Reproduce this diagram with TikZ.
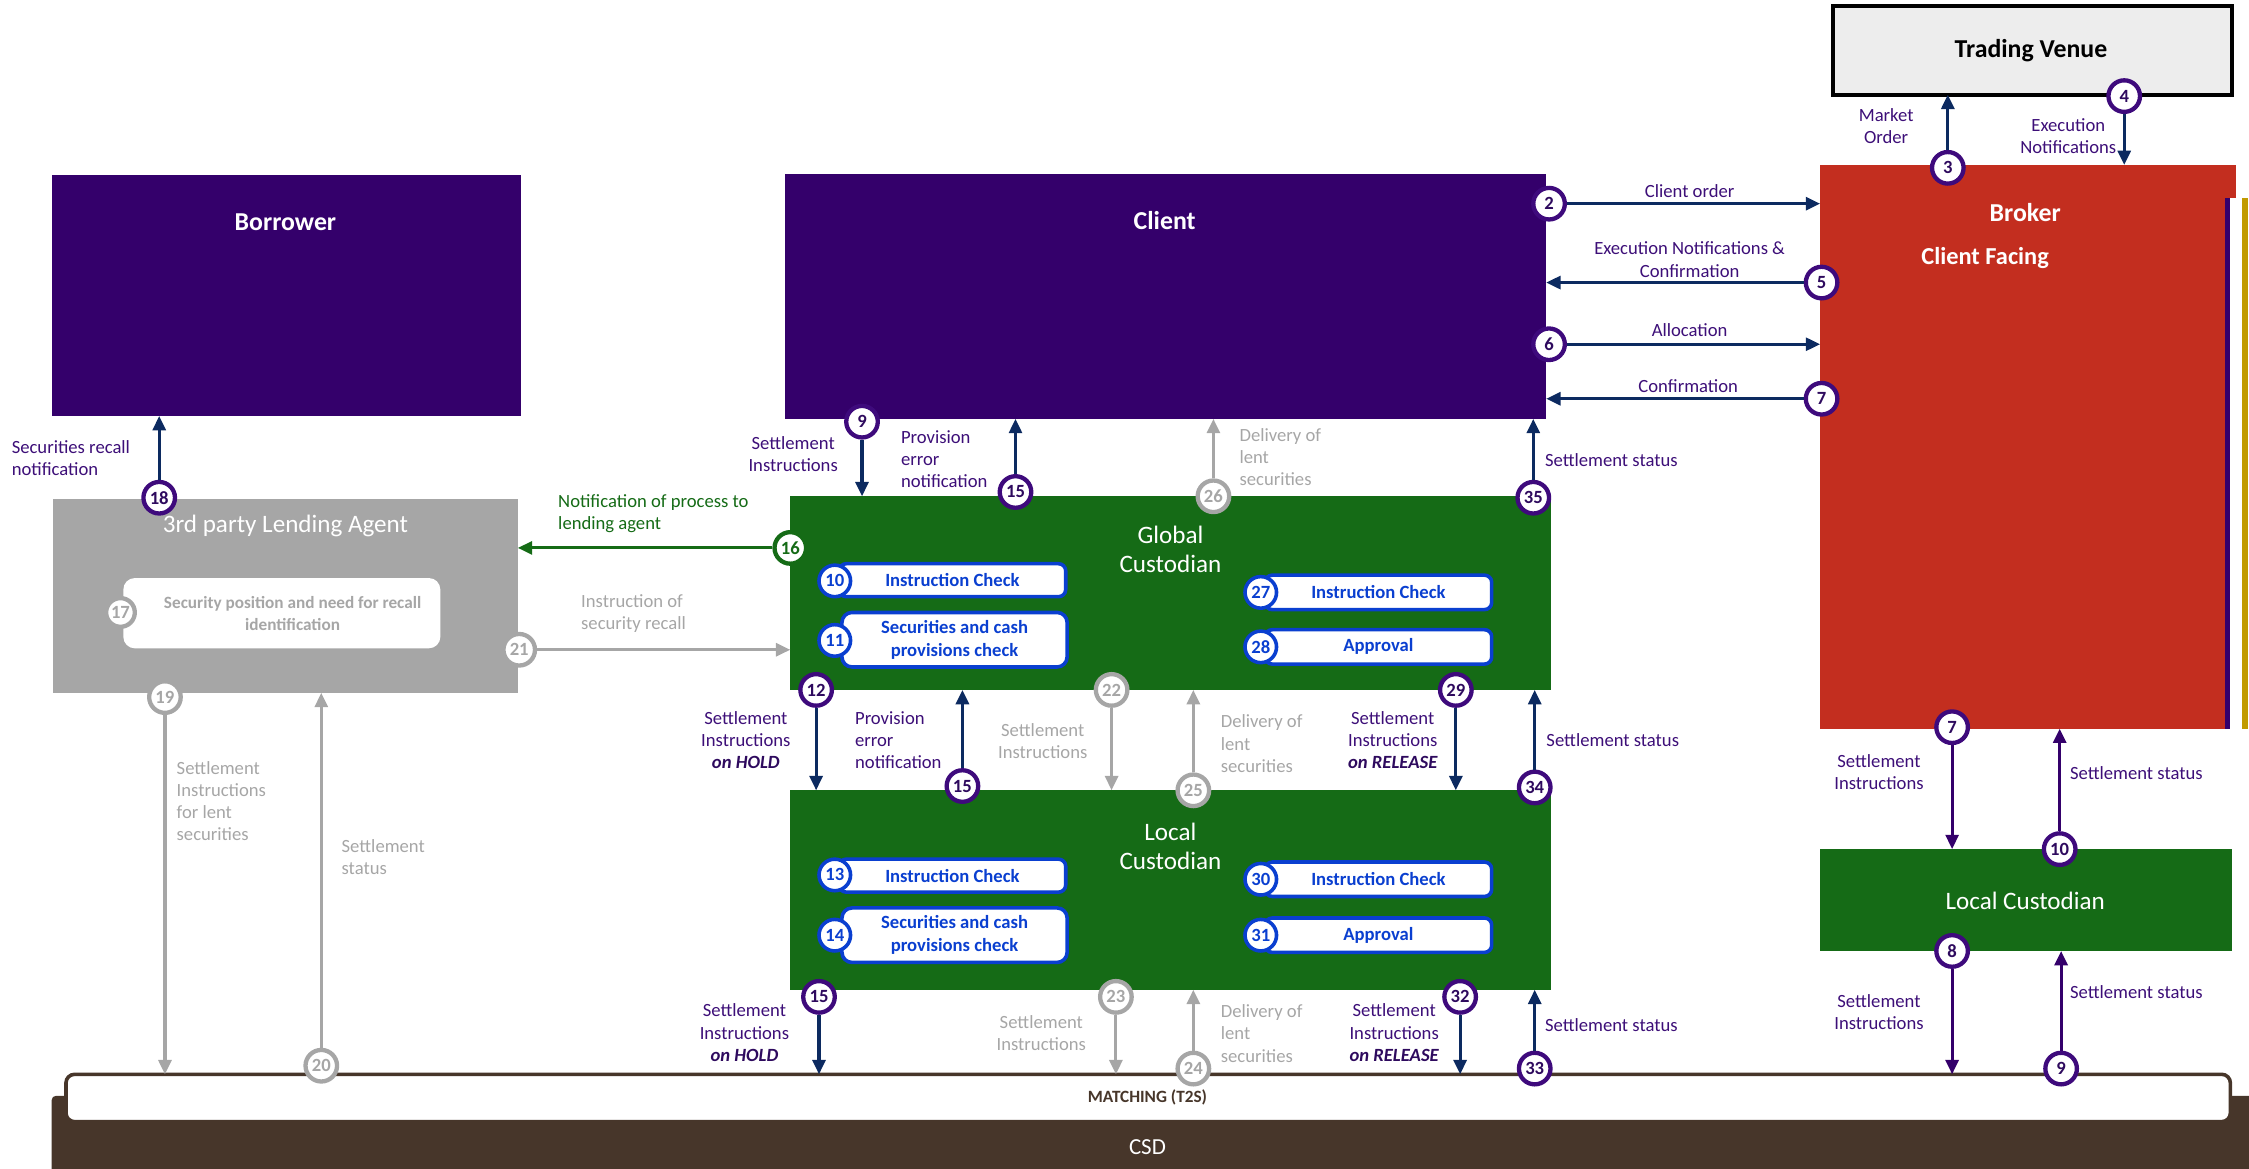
\documentclass[tikz,border=0pt]{standalone}
\usepackage{fontspec}
\setmainfont{Carlito}
\usetikzlibrary{arrows.meta}

\definecolor{deeppurple}{HTML}{34006B}
\definecolor{brokerred}{HTML}{C32E1F}
\definecolor{custgreen}{HTML}{156B16}
\definecolor{agentgray}{HTML}{A6A6A6}
\definecolor{venuegray}{HTML}{EDEDED}
\definecolor{csdbrown}{HTML}{47362A}
\definecolor{navyflow}{HTML}{0C2A60}
\definecolor{lblpurple}{HTML}{3D0F78}
\definecolor{ringpurple}{HTML}{3E0A7C}
\definecolor{numpurple}{HTML}{2E0A5E}
\definecolor{checkblue}{HTML}{0A3FD0}
\definecolor{goldline}{HTML}{C19A00}

\newcommand\flagtext[1]{{\color{numpurple}\bfseries\itshape #1}}

\tikzset{
  panel/.style={draw=none, inner sep=0, outer sep=0, anchor=north west},
  title/.style={font=\fontsize{18}{21}\selectfont\bfseries, text=white, inner sep=0},
  subtitle/.style={font=\fontsize{17.5}{20}\selectfont, text=white, inner sep=0, align=center},
  ring/.style={circle, draw=ringpurple, line width=3pt, fill=white, minimum size=22pt,
    inner sep=0, font=\fontsize{13}{13}\selectfont\bfseries, text=numpurple},
  ringgray/.style={ring, draw=agentgray, text=agentgray},
  ringgreen/.style={ring, draw=custgreen, text=custgreen},
  ringblue/.style={ring, draw=checkblue, text=checkblue, line width=2.5pt},
  pill/.style={draw=checkblue, line width=2.5pt, fill=white, rounded corners=5pt, inner sep=0,
    outer sep=0, anchor=north west, font=\fontsize{13}{16}\selectfont\bfseries,
    text=checkblue, align=center},
  flow/.style={line width=2.2pt, draw=navyflow, -{Triangle[length=10pt,width=9pt]}},
  flowgray/.style={flow, draw=agentgray},
  flowpurple/.style={flow, draw=deeppurple},
  flowgreen/.style={flow, draw=custgreen},
  lbl/.style={font=\fontsize{13}{15.5}\selectfont, text=lblpurple, inner sep=0, align=center},
  lblL/.style={lbl, align=left, anchor=west},
  lblgray/.style={lbl, text=agentgray},
  lblgrayL/.style={lblL, text=agentgray},
}

\begin{document}
\begin{tikzpicture}[x=1pt,y=-1pt]
\useasboundingbox (0,0) rectangle (1568,815);

% ---------- main blocks ----------
\node[panel, fill=venuegray, draw=black, line width=3pt, minimum width=278pt, minimum height=62pt] (venue) at (1278,4) {};
\node[panel, fill=brokerred, minimum width=282pt, minimum height=393pt] (broker) at (1269,115) {};
\fill[brokerred] (1550,115) rectangle (1559,138);
\fill[deeppurple] (1551,138) rectangle (1555,508);
\fill[goldline] (1563,138) rectangle (1567,508);

\node[panel, fill=deeppurple, minimum width=531pt, minimum height=171pt] (client) at (547,121) {};
\node[panel, fill=deeppurple, minimum width=327pt, minimum height=168pt] (borrower) at (36,122) {};
\node[panel, fill=agentgray, minimum width=324pt, minimum height=135pt] (agent) at (37,348) {};
\node[panel, fill=white, rounded corners=8pt, minimum width=221pt, minimum height=49pt] (recall) at (86,403) {};
\node[panel, fill=custgreen, minimum width=530pt, minimum height=135pt] (gcust) at (551,346) {};
\node[panel, fill=custgreen, minimum width=530pt, minimum height=139pt] (lcust) at (551,551) {};
\node[panel, fill=custgreen, minimum width=287pt, minimum height=71pt] (lcright) at (1269,592) {};

\node[panel, fill=csdbrown, rounded corners=3pt, minimum width=1540pt, minimum height=56pt] (csd) at (36,764) {};
\node[panel, fill=white, draw=csdbrown, line width=2.5pt, rounded corners=6pt, minimum width=1509pt, minimum height=33pt] (match) at (46,749) {};

% ---------- block titles ----------
\node[title, text=black] (venuetitle) at (1416,35) {Trading Venue};
\node[title] (brokertitle) at (1412,148) {Broker};
\node[title, font=\fontsize{17}{20}\selectfont\bfseries] (facing) at (1384,180) {Client Facing};
\node[title] (clienttitle) at (812,154) {Client};
\node[title] (borrowertitle) at (199,155) {Borrower};
\node[subtitle] (agenttitle) at (199,367) {3rd party Lending Agent};
\node[subtitle] (gctitle) at (816,383) {Global\\Custodian};
\node[subtitle] (lctitle) at (816,590) {Local\\Custodian};
\node[subtitle] (lcrtitle) at (1412,628) {Local Custodian};
\node[font=\fontsize{12}{14}\selectfont\bfseries, text=csdbrown, inner sep=0] (matchtitle) at (800,765) {MATCHING (T2S)};
\node[font=\fontsize{16}{18}\selectfont, text=white, inner sep=0] (csdtitle) at (800,800) {CSD};
\node[font=\fontsize{12}{15.5}\selectfont\bfseries, text=agentgray, inner sep=0, align=center] (recalltxt) at (204,427.5) {Security position and need for recall\\identification};

% ---------- check steps ----------
\node[pill, minimum width=158pt, minimum height=23pt] (p10) at (585,393) {Instruction Check};
\node[pill, rounded corners=7pt, minimum width=157pt, minimum height=38pt] (p11) at (587,427) {Securities and cash\\provisions check};
\node[pill, minimum width=158pt, minimum height=24pt] (p27) at (882,401) {Instruction Check};
\node[pill, minimum width=158pt, minimum height=24pt] (p28) at (882,439) {Approval};
\node[pill, minimum width=158pt, minimum height=23pt] (p13) at (585,599) {Instruction Check};
\node[pill, rounded corners=7pt, minimum width=157pt, minimum height=38pt] (p14) at (587,633) {Securities and cash\\provisions check};
\node[pill, minimum width=158pt, minimum height=24pt] (p30) at (882,601) {Instruction Check};
\node[pill, minimum width=158pt, minimum height=24pt] (p31) at (882,640) {Approval};

\node[ringblue] (n10) at (582,405) {10};
\node[ringblue] (n11) at (582,446.5) {11};
\node[ringblue] (n27) at (879,413) {27};
\node[ringblue] (n28) at (879,451) {28};
\node[ringblue] (n13) at (582,610) {13};
\node[ringblue] (n14) at (582,652) {14};
\node[ringblue] (n30) at (879,613) {30};
\node[ringblue] (n31) at (879,652) {31};
\node[ringgray, minimum size=20pt] (n17) at (84,427) {17};

% ---------- step markers ----------
\node[ring] (n2) at (1080,142) {2};
\node[ring] (n5) at (1270,197) {5};
\node[ring] (n6) at (1080,240) {6};
\node[ring] (n7) at (1270,278) {7};
\node[ring] (n3) at (1358,117) {3};
\node[ring] (n4) at (1481,67) {4};
\node[ring] (n9) at (601,294) {9};
\node[ring] (n15a) at (708,343) {15};
\node[ringgray] (n26) at (846,346) {26};
\node[ring] (n35) at (1069,347) {35};
\node[ringgreen] (n16) at (551,382) {16};
\node[ring] (n18) at (111,347) {18};
\node[ringgray] (n21) at (362,453) {21};
\node[ringgray] (n19) at (115,486) {19};
\node[ringgray] (n20) at (224,743) {20};
\node[ring] (n12) at (569,481) {12};
\node[ring] (n15b) at (671,548) {15};
\node[ringgray] (n22) at (775,481) {22};
\node[ringgray] (n25) at (832,551) {25};
\node[ring] (n29) at (1015,481) {29};
\node[ring] (n34) at (1070,549) {34};
\node[ring] (n15c) at (571,695) {15};
\node[ringgray] (n23) at (778,695) {23};
\node[ringgray] (n24) at (832,745) {24};
\node[ring] (n32) at (1018,695) {32};
\node[ring] (n33) at (1070,745) {33};
\node[ring] (n7r) at (1361,507) {7};
\node[ring] (n10r) at (1436,592) {10};
\node[ring] (n8r) at (1361,663) {8};
\node[ring] (n9r) at (1437,745) {9};

% ---------- flows ----------
\draw[flow] (n2) -- (n2 -| broker.west);
\draw[flow] (n5) -- (n5 -| client.east);
\draw[flow] (n6) -- (n6 -| broker.west);
\draw[flow] (n7) -- (n7 -| client.east);
\draw[flow] (n3) -- (n3 |- venue.south);
\draw[flow] (n4) -- (n4 |- broker.north);
\draw[flow] (n9) -- (n9 |- gcust.north);
\draw[flow] (n15a) -- (n15a |- client.south);
\draw[flowgray] (n26) -- (n26 |- client.south);
\draw[flow] (n35) -- (n35 |- client.south);
\draw[flowgreen] (n16) -- (n16 -| agent.east);
\draw[flow] (n18) -- (n18 |- borrower.south);
\draw[flowgray] (n21) -- (n21 -| gcust.west);
\draw[flowgray] (n19) -- (n19 |- match.north);
\draw[flowgray] (n20) -- (n20 |- agent.south);
\draw[flow] (n12) -- (n12 |- lcust.north);
\draw[flow] (n15b) -- (n15b |- gcust.south);
\draw[flowgray] (n22) -- (n22 |- lcust.north);
\draw[flowgray] (n25) -- (n25 |- gcust.south);
\draw[flow] (n29) -- (n29 |- lcust.north);
\draw[flow] (n34) -- (n34 |- gcust.south);
\draw[flow] (n15c) -- (n15c |- match.north);
\draw[flowgray] (n23) -- (n23 |- match.north);
\draw[flowgray] (n24) -- (n24 |- lcust.south);
\draw[flow] (n32) -- (n32 |- match.north);
\draw[flow] (n33) -- (n33 |- lcust.south);
\draw[flowpurple] (n7r) -- (n7r |- lcright.north);
\draw[flowpurple] (n10r) -- (n10r |- broker.south);
\draw[flowpurple] (n8r) -- (n8r |- match.north);
\draw[flowpurple] (n9r) -- (n9r |- lcright.south);

% ---------- flow labels ----------
\node[lbl] (l2) at (1178,133) {Client order};
\node[lbl] (l5) at (1178,181) {Execution Notifications \&\\Confirmation};
\node[lbl] (l6) at (1178,230) {Allocation};
\node[lbl] (l7) at (1177,269) {Confirmation};
\node[lbl] (l3) at (1315,88) {Market\\Order};
\node[lbl] (l4) at (1442,95) {Execution\\Notifications};
\node[lblL] (l18) at (8,319.5) {Securities recall\\notification};
\node[lbl] (l9) at (553,316.5) {Settlement\\Instructions};
\node[lblL] (l15a) at (628,320) {Provision\\error\\notification};
\node[lblgrayL] (l26) at (864,318.5) {Delivery of\\lent\\securities};
\node[lblL] (l35) at (1077,321) {Settlement status};
\node[lblL, text=custgreen] (l16) at (389,358) {Notification of process to\\lending agent};
\node[lblgrayL] (l21) at (405,428) {Instruction of\\security recall};
\node[lblgrayL] (l19) at (123,558.5) {Settlement\\Instructions\\for lent\\securities};
\node[lblgrayL] (l20) at (238,597.5) {Settlement\\status};
\node[lbl] (l12) at (520,516) {Settlement\\Instructions\\\flagtext{on HOLD}};
\node[lblL] (l15b) at (596,516) {Provision\\error\\notification};
\node[lblgray] (l22) at (727,516.5) {Settlement\\Instructions};
\node[lblgrayL] (l25) at (851,518.5) {Delivery of\\lent\\securities};
\node[lbl] (l29) at (971,516) {Settlement\\Instructions\\\flagtext{on RELEASE}};
\node[lblL] (l34) at (1078,516) {Settlement status};
\node[lbl] (l15c) at (519,720) {Settlement\\Instructions\\\flagtext{on HOLD}};
\node[lblgray] (l23) at (726,720) {Settlement\\Instructions};
\node[lblgrayL] (l24) at (851,720.5) {Delivery of\\lent\\securities};
\node[lbl] (l32) at (972,720) {Settlement\\Instructions\\\flagtext{on RELEASE}};
\node[lblL] (l33) at (1077,715) {Settlement status};
\node[lbl] (l7r) at (1310,538.5) {Settlement\\Instructions};
\node[lblL] (l10r) at (1443,539) {Settlement status};
\node[lbl] (l8r) at (1310,705.5) {Settlement\\Instructions};
\node[lblL] (l9r) at (1443,692) {Settlement status};

\end{tikzpicture}
\end{document}
